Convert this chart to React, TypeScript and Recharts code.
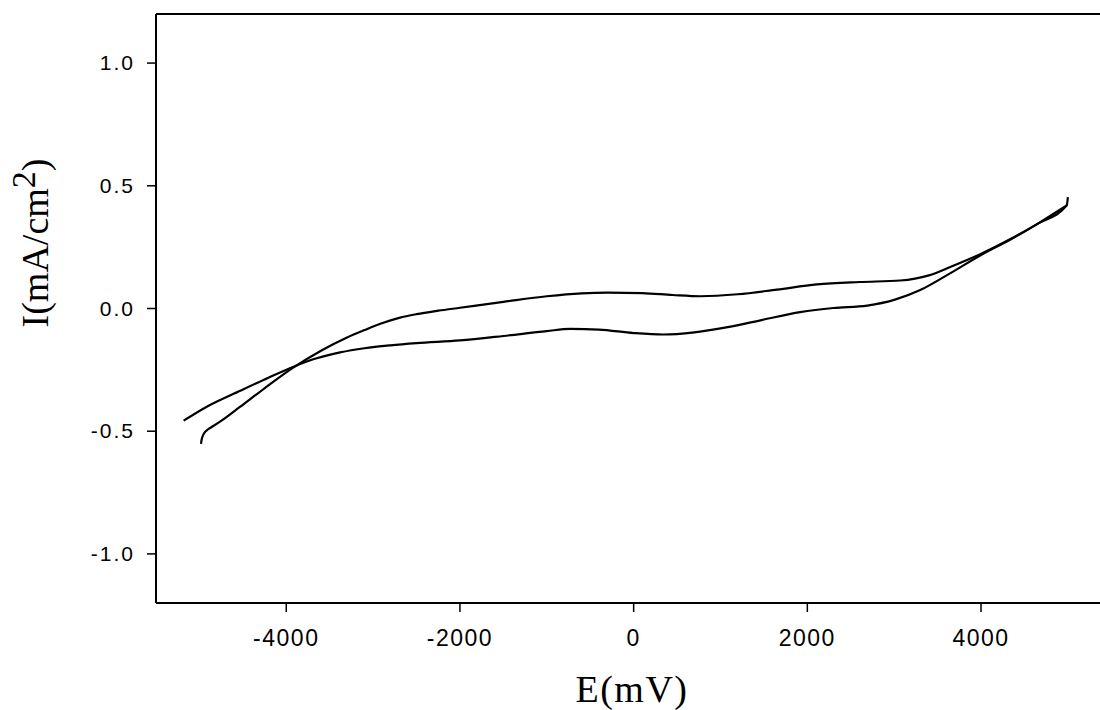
import { LineChart, Line, XAxis, YAxis, ReferenceLine } from 'recharts';

// forward scan (-5 V -> +5 V), upper branch on the right
const forwardE = [
  -4982, -4975, -4960, -4935, -4900, -4850, -4750, -4530, -4250, -3916, -3600, -3300, -3100, -2900,
  -2700, -2500, -2250, -2000, -1500, -1000, -600, -300, 100, 450, 770, 1200, 1650, 2110, 2600, 3070,
  3400, 3645, 4020, 4350, 4650, 4987, 5000,
];
const forwardI = [
  -0.552, -0.535, -0.518, -0.503, -0.492, -0.481, -0.458, -0.40, -0.325, -0.24, -0.172, -0.118, -0.088,
  -0.06, -0.038, -0.023, -0.009, 0.003, 0.027, 0.05, 0.062, 0.065, 0.063, 0.055, 0.05, 0.058, 0.077,
  0.098, 0.108, 0.114, 0.135, 0.169, 0.226, 0.285, 0.345, 0.42, 0.454,
];

// reverse scan (+5 V -> -5.2 V), listed by increasing E
const reverseE = [
  -5182, -4900, -4530, -4200, -3916, -3650, -3380, -3100, -2800, -2500, -2000, -1500, -1000, -730,
  -400, 0, 340, 700, 1100, 1500, 1917, 2300, 2690, 3000, 3300, 3643, 4020, 4350, 4650, 4987,
];
const reverseI = [
  -0.457, -0.397, -0.335, -0.281, -0.237, -0.203, -0.179, -0.162, -0.15, -0.141, -0.13, -0.112, -0.092,
  -0.083, -0.086, -0.1, -0.106, -0.097, -0.075, -0.045, -0.015, 0.002, 0.012, 0.035, 0.075, 0.143,
  0.222, 0.283, 0.345, 0.42,
];

const xTicks = [-4000, -2000, 0, 2000, 4000];
const yTicks = [-1.0, -0.5, 0.0, 0.5, 1.0];

const forward = forwardE.map((e, k) => ({ e, i: forwardI[k] }));
const reverse = reverseE.map((e, k) => ({ e, i: reverseI[k] }));

const sans = '"Liberation Sans", Arial, sans-serif';
const serif = '"Liberation Serif", "Times New Roman", serif';

const XTick = ({ x, y, payload }: any) => (
  <text x={x} y={y + 34} textAnchor="middle" fontFamily={sans} fontSize={23} letterSpacing={1.5} fill="#000">
    {payload.value}
  </text>
);

const YTick = ({ x, y, payload }: any) => (
  <text x={x - 12} y={y + 7} textAnchor="end" fontFamily={sans} fontSize={21} letterSpacing={2} fill="#000">
    {Number(payload.value).toFixed(1)}
  </text>
);

const XTitle = () => (
  <text x={632} y={702} textAnchor="middle" fontFamily={serif} fontSize={38} letterSpacing={1.5} fill="#000">
    E(mV)
  </text>
);

const YTitle = () => (
  <text
    transform="translate(48,243) rotate(-90)"
    textAnchor="middle"
    fontFamily={serif}
    fontSize={38}
    fill="#000"
  >
    I(mA/cm
    <tspan dy={-13} fontSize={34}>2</tspan>
    <tspan dy={13}>)</tspan>
  </text>
);

export default function App() {
  return (
    <div style={{ position: 'absolute', left: 0, top: 0, background: '#fff' }}>
      <LineChart width={1100} height={710} margin={{ top: 14, right: 0, left: 0, bottom: 0 }}>
        <XAxis
          type="number"
          dataKey="e"
          domain={[-5500, 5370]}
          ticks={xTicks}
          height={107}
          allowDataOverflow
          axisLine={{ stroke: '#000', strokeWidth: 2 }}
          tickLine={{ stroke: '#000', strokeWidth: 1.5 }}
          tickSize={9}
          tickMargin={0}
          tick={<XTick />}
          label={<XTitle />}
        />
        <YAxis
          type="number"
          dataKey="i"
          domain={[-1.2, 1.2]}
          ticks={yTicks}
          width={156}
          allowDataOverflow
          axisLine={{ stroke: '#000', strokeWidth: 2 }}
          tickLine={{ stroke: '#000', strokeWidth: 1.5 }}
          tickSize={9}
          tickMargin={0}
          tick={<YTick />}
          label={<YTitle />}
        />
        <ReferenceLine y={1.2} stroke="#000" strokeWidth={2} />
        <Line
          data={forward}
          dataKey="i"
          type="monotone"
          stroke="#000"
          strokeWidth={2.2}
          dot={false}
          activeDot={false}
          isAnimationActive={false}
        />
        <Line
          data={reverse}
          dataKey="i"
          type="monotone"
          stroke="#000"
          strokeWidth={2.2}
          dot={false}
          activeDot={false}
          isAnimationActive={false}
        />
      </LineChart>
    </div>
  );
}
